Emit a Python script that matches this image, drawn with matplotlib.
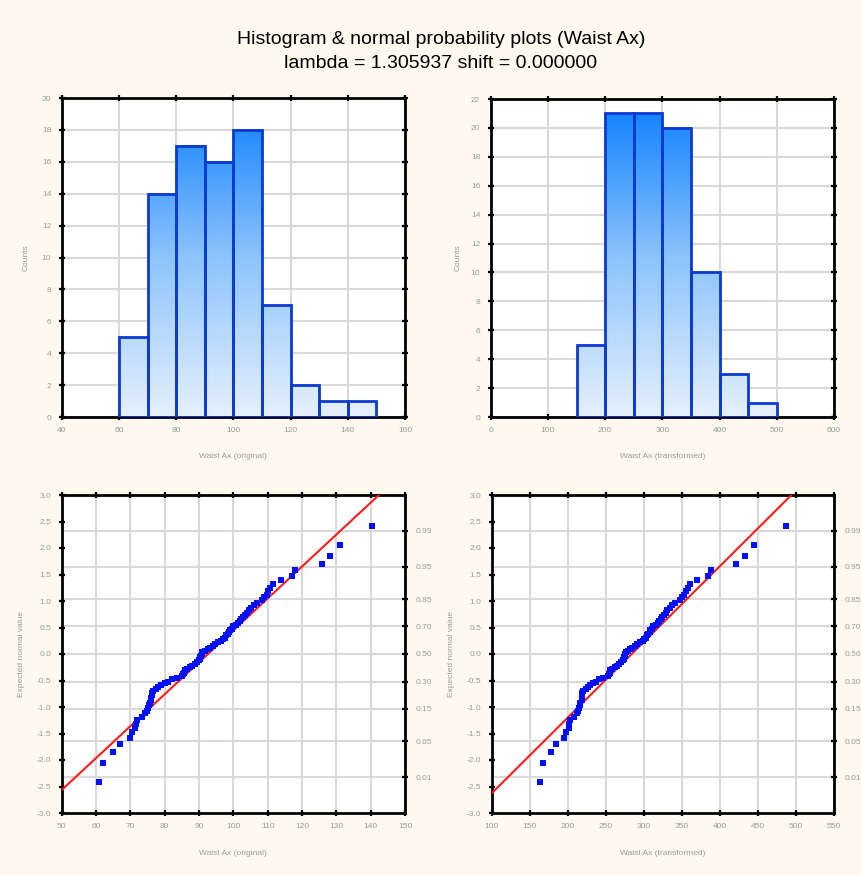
import numpy as np
import matplotlib
matplotlib.use("Agg")
import matplotlib.pyplot as plt
from matplotlib.colors import LinearSegmentedColormap

# ---------------- data ----------------
title_line1 = "Histogram & normal probability plots (Waist Ax)"
title_line2 = "lambda = 1.305937 shift = 0.000000"
box_cox_lambda = 1.305937

orig_bin_edges = [60, 70, 80, 90, 100, 110, 120, 130, 140, 150]
orig_counts = [5, 14, 17, 16, 18, 7, 2, 1, 1]

trans_bin_edges = [150, 200, 250, 300, 350, 400, 450, 500]
trans_counts = [5, 21, 21, 20, 10, 3, 1]

waist_sorted = [
    61.0, 62.1, 64.9, 67.0, 69.9, 70.5, 71.4, 71.6, 72.0, 73.5,
    74.3, 74.8, 75.0, 75.3, 75.6, 76.0, 76.0, 76.2, 76.2, 76.5,
    77.5, 78.1, 79.0, 80.0, 81.0, 82.0, 83.5, 85.0, 85.3, 85.6,
    85.9, 86.5, 87.3, 88.0, 88.8, 89.5, 90.0, 90.3, 90.4, 90.6,
    90.8, 91.0, 91.8, 92.5, 93.2, 94.0, 94.8, 95.6, 96.5, 97.0,
    97.6, 98.0, 98.4, 98.8, 99.0, 99.5, 100.0, 100.7, 101.4, 101.8,
    102.3, 102.8, 103.4, 103.9, 104.5, 105.2, 106.0, 106.8, 108.3, 109.0,
    109.7, 110.2, 110.8, 111.6, 113.8, 117.0, 118.0, 125.7, 128.2, 131.1,
    140.3,
]

expected_normal = [
    -2.42, -2.05, -1.85, -1.70, -1.58, -1.48, -1.40, -1.32, -1.25, -1.18,
    -1.12, -1.07, -1.01, -0.96, -0.92, -0.87, -0.83, -0.78, -0.74, -0.70,
    -0.66, -0.62, -0.59, -0.55, -0.52, -0.48, -0.45, -0.41, -0.38, -0.35,
    -0.31, -0.28, -0.25, -0.22, -0.19, -0.16, -0.12, -0.09, -0.06, -0.03,
    0.00,
    0.03, 0.06, 0.09, 0.12, 0.16, 0.19, 0.22, 0.25, 0.28, 0.31,
    0.35, 0.38, 0.41, 0.45, 0.48, 0.52, 0.55, 0.59, 0.62, 0.66,
    0.70, 0.74, 0.78, 0.83, 0.87, 0.92, 0.96, 1.01, 1.07, 1.12,
    1.18, 1.25, 1.32, 1.40, 1.48, 1.58, 1.70, 1.85, 2.05, 2.42,
]

ref_line_orig = (92.6, 16.6)    # mean, sd of the fitted normal line
ref_line_trans = (284.0, 70.0)

prob_tick_labels = ["0.01", "0.05", "0.15", "0.30", "0.50", "0.70", "0.85", "0.95", "0.99"]
prob_tick_z = [-2.326, -1.645, -1.036, -0.524, 0.0, 0.524, 1.036, 1.645, 2.326]

xlabel_orig = "Waist Ax (original)"
xlabel_trans = "Waist Ax (transformed)"
ylabel_hist = "Counts"
ylabel_prob = "Expected normal value"

# ---------------- style ----------------
BG = "#FDF9EE"
GRID = "#D9D9D9"
TICKC = "#9A9A9A"
FONT = ["Liberation Sans Narrow", "Liberation Sans", "DejaVu Sans"]
plt.rcParams["font.family"] = FONT

W, H = 861, 875
fig = plt.figure(figsize=(W / 100, H / 100), dpi=100, facecolor=BG)

def rect(l, t, r, b):
    return [l / W, 1 - b / H, (r - l) / W, (b - t) / H]

cmap = LinearSegmentedColormap.from_list("g", ["#E6F0FC", "#8CC4FB", "#0A7EFF"])
grad = np.linspace(0, 1, 512).reshape(-1, 1)

def style_axes(ax):
    for s in ax.spines.values():
        s.set_linewidth(2.0)
        s.set_color("black")
    ax.tick_params(direction="inout", length=5, width=1.6, color="black",
                   labelcolor=TICKC, labelsize=6, top=True, right=True, pad=5)

def hist_panel(ax, edges, counts, xlim, xticks, ymax, yticks, xlabel):
    ax.set_facecolor("white")
    ax.set_axisbelow(True)
    for i, c in enumerate(counts):
        l, r = edges[i], edges[i + 1]
        n = max(2, int(len(grad) * c / ymax))
        ax.imshow(grad[:n], extent=[l, r, 0, c], origin="lower", cmap=cmap,
                  vmin=0, vmax=1, aspect="auto", zorder=2, interpolation="bilinear")
    ax.bar(edges[:-1], counts, width=np.diff(edges), align="edge", fill=False,
           edgecolor="#0D3AD0", linewidth=2.0, zorder=3)
    ax.set_xlim(*xlim)
    ax.set_ylim(0, ymax)
    ax.set_xticks(xticks)
    ax.set_yticks(yticks)
    ax.grid(True, color=GRID, linewidth=1.5, zorder=0)
    style_axes(ax)
    ax.tick_params(labelright=False, labeltop=False)
    ax.set_xlabel(xlabel, fontsize=6, color=TICKC)
    ax.set_ylabel(ylabel_hist, fontsize=6, color=TICKC)

def prob_panel(ax, xvals, zvals, line, xlim, xticks, xlabel):
    ax.set_facecolor("white")
    ax.set_axisbelow(True)
    for z in prob_tick_z:
        ax.axhline(z, color=GRID, linewidth=1.5, zorder=0)
    ax.xaxis.grid(True, color=GRID, linewidth=1.5, zorder=0)
    mu, sd = line
    xl = np.array(xlim, dtype=float)
    ax.plot(xl, (xl - mu) / sd, color="#FF1A1A", linewidth=1.5, zorder=3)
    ax.plot(xvals, zvals, linestyle="none", marker="s", markersize=3.8,
            color="#0010FF", markeredgewidth=0, zorder=4)
    ax.set_xlim(*xlim)
    ax.set_ylim(-3, 3)
    ax.set_xticks(xticks)
    yt = np.arange(-3.0, 3.01, 0.5)
    ax.set_yticks(yt)
    ax.set_yticklabels([f"{v:.1f}" for v in yt])
    style_axes(ax)
    ax.tick_params(right=False, labeltop=False)
    ax2 = ax.twinx()
    ax2.set_ylim(-3, 3)
    ax2.set_yticks(prob_tick_z)
    ax2.set_yticklabels(prob_tick_labels)
    for s in ax2.spines.values():
        s.set_visible(False)
    ax2.tick_params(direction="inout", length=5, width=1.6, color="black",
                    labelcolor=TICKC, labelsize=6, pad=5)
    ax.set_xlabel(xlabel, fontsize=6, color=TICKC)
    ax.set_ylabel(ylabel_prob, fontsize=6, color=TICKC)

# top-left histogram
ax1 = fig.add_axes(rect(61.7, 98, 405, 417))
hist_panel(ax1, orig_bin_edges, orig_counts, (40, 160), np.arange(40, 161, 20),
           20, np.arange(0, 21, 2), xlabel_orig)
ax1.xaxis.set_label_coords(0.5, -0.113)
ax1.yaxis.set_label_coords(-0.092, 0.5)

# top-right histogram
ax2 = fig.add_axes(rect(490.7, 99, 834, 417))
hist_panel(ax2, trans_bin_edges, trans_counts, (0, 600), np.arange(0, 601, 100),
           22, np.arange(0, 23, 2), xlabel_trans)
ax2.xaxis.set_label_coords(0.5, -0.113)
ax2.yaxis.set_label_coords(-0.084, 0.5)

# bottom-left normal probability plot (original)
x_orig = np.array(waist_sorted)
ax3 = fig.add_axes(rect(61.7, 495, 405, 813))
prob_panel(ax3, x_orig, expected_normal, ref_line_orig, (50, 150),
           np.arange(50, 151, 10), xlabel_orig)
ax3.xaxis.set_label_coords(0.5, -0.115)
ax3.yaxis.set_label_coords(-0.107, 0.5)

# bottom-right normal probability plot (Box-Cox transformed)
x_trans = (x_orig ** box_cox_lambda - 1.0) / box_cox_lambda
ax4 = fig.add_axes(rect(491.7, 495, 834, 813))
prob_panel(ax4, x_trans, expected_normal, ref_line_trans, (100, 550),
           np.arange(100, 551, 50), xlabel_trans)
ax4.xaxis.set_label_coords(0.5, -0.115)
ax4.yaxis.set_label_coords(-0.107, 0.5)

fig.text(441 / W, 1 - 39 / H, title_line1, ha="center", va="center",
         fontsize=14, color="#000000")
fig.text(441 / W, 1 - 64 / H, title_line2, ha="center", va="center",
         fontsize=14, color="#000000")

fig.savefig("out.png", dpi=100, facecolor=BG)
